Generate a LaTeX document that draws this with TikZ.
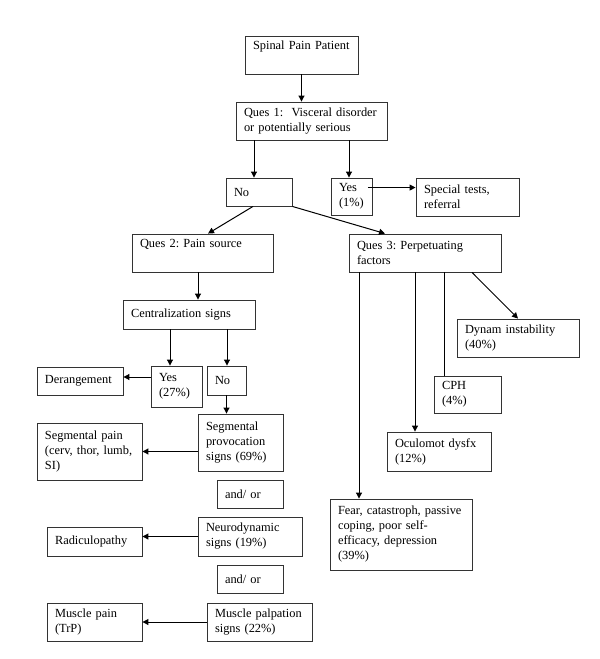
\documentclass[tikz,border=0pt]{standalone}
\usepackage{fontspec}
\setmainfont{Liberation Serif}
\usetikzlibrary{arrows.meta}
\newcommand{\boxfont}{\fontsize{12.4}{15}\selectfont\frenchspacing}

\begin{document}
\begin{tikzpicture}[x=1pt, y=-1pt,
  box/.style={draw=black!80, line width=0.9pt, align=left, inner xsep=8pt, inner ysep=0pt, font=\boxfont},
  arr/.style={line width=1pt, -{Triangle[length=6pt,width=6pt]}}]
\useasboundingbox (0,0) rectangle (600,659);
\node[box, text width=97pt, minimum height=38] (patient) at (301.5,55) {Spinal Pain Patient\\\strut};
\node[box, text width=135pt, minimum height=38] (q1) at (311.5,121) {Ques 1:\ \ Visceral disorder\\or potentially serious};
\node[box, text width=50pt, minimum height=28] (no1) at (259,192) {No};
\node[box, text width=26pt, minimum height=37, inner xsep=7.5pt] (yes1) at (352,196.5) {Yes\\(1\%)};
\node[box, text width=87pt, minimum height=38] (special) at (467.5,197) {Special tests,\\referral};
\node[box, text width=125pt, minimum height=38] (q2) at (202.5,253) {Ques 2: Pain source\\\strut};
\node[box, text width=136pt, minimum height=38] (q3) at (425,253) {Ques 3: Perpetuating\\factors};
\node[box, text width=116pt, minimum height=29] (central) at (189,314.5) {Centralization signs};
\node[box, text width=35pt, minimum height=41] (yes2) at (176.5,386.5) {Yes\\(27\%)};
\node[box, text width=23pt, minimum height=29] (no2) at (226.5,380.5) {No};
\node[box, text width=70pt, minimum height=28] (derang) at (80,381) {Derangement};
\node[box, text width=69pt, minimum height=57] (segprov) at (240.5,442.5) {Segmental\\provocation\\signs (69\%)};
\node[box, text width=89pt, minimum height=57] (segpain) at (89.5,451.5) {Segmental pain\\(cerv, thor, lumb,\\SI)};
\node[box, text width=50pt, minimum height=28] (andor1) at (250,494) {and/ or};
\node[box, text width=88pt, minimum height=39] (neuro) at (250,536.5) {Neurodynamic\\signs (19\%)};
\node[box, text width=79pt, minimum height=29] (radic) at (94.5,541.5) {Radiculopathy};
\node[box, text width=50pt, minimum height=28] (andor2) at (250,579) {and/ or};
\node[box, text width=89pt, minimum height=38] (musclep) at (259.5,622) {Muscle palpation\\signs (22\%)};
\node[box, text width=79pt, minimum height=38] (musclepain) at (94.5,622) {Muscle pain\\(TrP)};
\node[box, text width=106pt, minimum height=38] (dynam) at (518,338) {Dynam instability\\(40\%)};
\node[box, text width=51pt, minimum height=37] (cph) at (467.5,394.5) {CPH\\(4\%)};
\node[box, text width=88pt, minimum height=39] (oculo) at (439,451.5) {Oculomot dysfx\\(12\%)};
\node[box, text width=126pt, minimum height=71] (fear) at (401,534.5) {Fear, catastroph, passive\\coping, poor self-\\efficacy, depression\\(39\%)};
% top of the tree
\draw[arr] (patient.south) -- (patient.south |- q1.north);
\draw[arr] ([xshift=-57.5pt]q1.south) -- ([xshift=-57.5pt]q1.south |- no1.north);
\draw[arr] ([xshift=37.5pt]q1.south) -- ([xshift=37.5pt]q1.south |- yes1.north);
\draw[arr] ([shift={(-5pt,-10pt)}]yes1.north east) -- ([yshift=-10pt]yes1.north east -| special.west);
\draw[arr] ([xshift=-6pt]no1.south) -- ([xshift=5.5pt]q2.north);
\draw[arr] (no1.south east) -- ([xshift=-40pt]q3.north);
% pain source
\draw[arr] ([xshift=-4.5pt]q2.south) -- ([xshift=-4.5pt]q2.south |- central.north);
\draw[arr] ([xshift=-19pt]central.south) -- ([xshift=-19pt]central.south |- yes2.north);
\draw[arr] ([xshift=38pt]central.south) -- ([xshift=38pt]central.south |- no2.north);
\draw[arr] ([yshift=9.5pt]yes2.west) -- ([yshift=9.5pt]yes2.west -| derang.east);
\draw[arr] (no2.south) -- (no2.south |- segprov.north);
\draw[arr] (segprov.west |- segpain.east) -- (segpain.east);
\draw[arr] (neuro.west) -- (neuro.west -| radic.east);
\draw[arr] (musclep.west) -- (musclepain.east);
% perpetuating factors
\draw[arr] ([xshift=-66pt]q3.south) -- ([xshift=-66pt]q3.south |- fear.north);
\draw[arr] ([xshift=-10pt]q3.south) -- ([xshift=-10pt]q3.south |- oculo.north);
\draw[line width=1pt] ([xshift=19pt]q3.south) -- ([xshift=19pt]q3.south |- cph.north);
\draw[arr] ([xshift=47pt]q3.south) -- (dynam.north);
\end{tikzpicture}
\end{document}
